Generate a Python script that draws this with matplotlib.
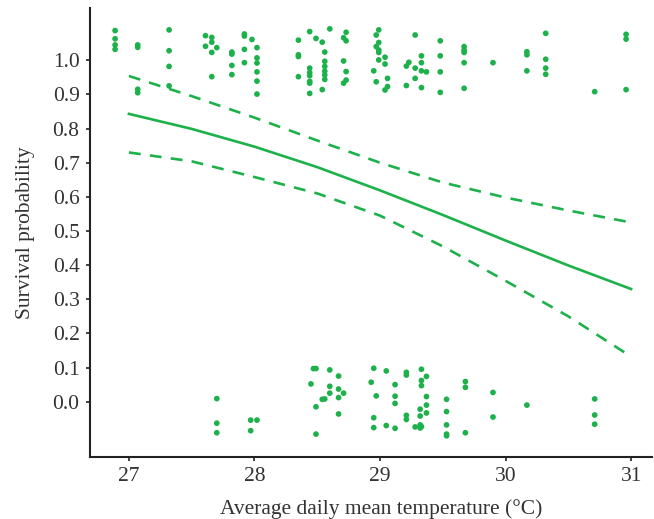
import matplotlib.pyplot as plt

plt.rcParams['font.family'] = ['Liberation Serif', 'DejaVu Serif']

GREEN = '#1db14b'
TEXT = '#333333'

# observed fish, grouped by temperature column (jittered survival 0/1)
survived = [
    (26.89, [1.087, 1.063, 1.045, 1.032]),
    (27.07, [1.045, 1.038, 0.915, 0.905]),
    (27.32, [1.089, 1.028, 0.982, 0.925]),
    (27.61, [1.072, 1.041]),
    (27.66, [1.067, 1.053, 1.023, 0.952]),
    (27.70, [1.037]),
    (27.82, [1.024, 1.018, 0.985, 0.958]),
    (27.92, [1.077, 1.071, 1.032, 0.993]),
    (27.98, [1.061]),
    (28.02, [1.037, 1.007, 0.992, 0.966, 0.939, 0.901]),
    (28.35, [1.059, 1.016, 1.011, 0.952]),
    (28.44, [1.084, 0.977, 0.964, 0.955, 0.938, 0.933, 0.903]),
    (28.49, [1.064]),
    (28.54, [1.053, 0.914]),
    (28.56, [1.024, 0.997, 0.982, 0.968, 0.957, 0.944]),
    (28.60, [1.092]),
    (28.71, [1.066, 0.998, 0.933]),
    (28.73, [1.082, 1.057, 0.967, 0.942]),
    (28.95, [0.969]),
    (28.97, [1.074, 1.040, 0.937]),
    (28.99, [1.089, 1.052, 1.030, 1.023, 1.001]),
    (29.04, [1.009, 0.989, 0.913]),
    (29.06, [0.947, 0.923]),
    (29.21, [0.983, 0.926]),
    (29.23, [0.994]),
    (29.28, [1.074, 0.977, 0.947]),
    (29.33, [1.013, 0.993, 0.969, 0.920]),
    (29.37, [0.966]),
    (29.48, [1.057, 1.013, 0.966, 0.906]),
    (29.67, [1.040, 1.030, 1.023, 0.993, 0.918]),
    (29.90, [0.993]),
    (30.17, [1.025, 1.016, 0.969]),
    (30.32, [1.079, 1.003, 0.977, 0.959]),
    (30.71, [0.908]),
    (30.96, [1.076, 1.062, 0.914]),
]

died = [
    (27.70, [0.009, -0.063, -0.091]),
    (27.97, [-0.054, -0.085]),
    (28.02, [-0.054]),
    (28.45, [0.052]),
    (28.47, [0.097]),
    (28.49, [0.097, -0.015, -0.095]),
    (28.54, [0.007]),
    (28.56, [0.008]),
    (28.60, [0.093, 0.045, 0.025]),
    (28.67, [0.075, 0.037, 0.012, -0.036]),
    (28.71, [0.025]),
    (28.93, [0.057]),
    (28.95, [0.098, -0.047, -0.076]),
    (28.97, [0.017]),
    (29.05, [0.090, -0.070]),
    (29.12, [0.050, 0.016, -0.005, -0.078]),
    (29.21, [0.086, 0.078, -0.040, -0.052]),
    (29.28, [-0.074]),
    (29.32, [-0.022, -0.042, -0.068, -0.077]),
    (29.33, [0.095, 0.062, 0.047, -0.073]),
    (29.37, [0.074, 0.015, -0.010, -0.033]),
    (29.53, [0.007, -0.029, -0.068, -0.095, -0.100]),
    (29.68, [0.059, 0.042, -0.091]),
    (29.90, [0.027, -0.045]),
    (30.17, [-0.010]),
    (30.71, [0.008, -0.039, -0.066]),
]

# fitted survival curve with confidence band
fit_temp = [27.0, 27.5, 28.0, 28.5, 29.0, 29.5, 30.0, 30.5, 31.0]
fit_prob = [0.843, 0.799, 0.747, 0.687, 0.619, 0.547, 0.472, 0.399, 0.330]
fit_upper = [0.954, 0.895, 0.832, 0.765, 0.700, 0.642, 0.598, 0.560, 0.525]
fit_lower = [0.730, 0.704, 0.658, 0.610, 0.545, 0.455, 0.354, 0.250, 0.132]

xs, ys = [], []
for t, vals in survived + died:
    for v in vals:
        xs.append(t)
        ys.append(v)

fig = plt.figure(figsize=(6.54, 5.19), dpi=100)
ax = fig.add_axes([0.1376, 0.1195, 0.86, 0.865])

ax.scatter(xs, ys, s=17, color=GREEN, edgecolors='none', zorder=3)
ax.plot(fit_temp, fit_prob, color=GREEN, lw=1.9)
ax.plot(fit_temp, fit_upper, color=GREEN, lw=1.9, dashes=(4.5, 3.5))
ax.plot(fit_temp, fit_lower, color=GREEN, lw=1.9, dashes=(4.5, 3.5))

ax.set_xlim(26.69, 31.17)
ax.set_ylim(-0.162, 1.153)
ax.set_xticks([27, 28, 29, 30, 31])
ax.set_yticks([i / 10 for i in range(11)])
ax.set_yticklabels([f'{i / 10:.1f}' for i in range(11)])

for s in ['top', 'right']:
    ax.spines[s].set_visible(False)
for s in ['left', 'bottom']:
    ax.spines[s].set_linewidth(1.5)
    ax.spines[s].set_color('#222222')

ax.tick_params(axis='both', direction='out', length=3, width=1.2,
               color='#222222', labelsize=15.5, labelcolor=TEXT, pad=4.5)

ax.set_xlabel('Average daily mean temperature (°C)', fontsize=15.5, color=TEXT, labelpad=9)
ax.xaxis.label.set_x(0.517)
ax.set_ylabel('Survival probability', fontsize=15.5, color=TEXT, labelpad=13)

plt.savefig('out.png', dpi=100)
